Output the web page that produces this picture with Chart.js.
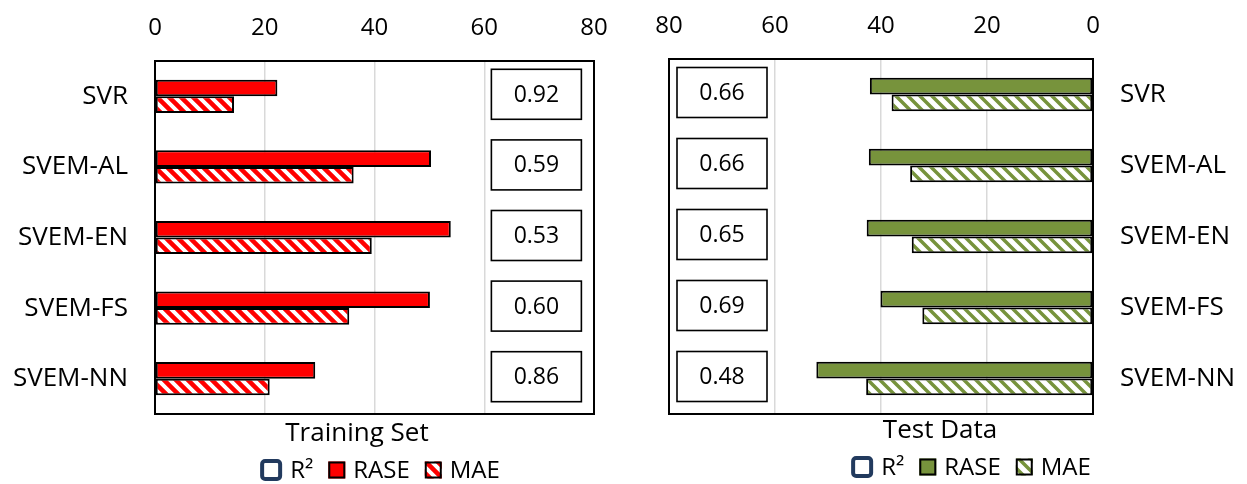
<!DOCTYPE html>
<html>
<head>
<meta charset="utf-8">
<script src="https://cdn.jsdelivr.net/npm/chart.js@4.4.1/dist/chart.umd.min.js"></script>
<style>
  html, body { margin: 0; padding: 0; background: #fff; }
  #wrap { position: relative; width: 1247px; height: 484px; overflow: hidden; background: #fff; }
  canvas { position: absolute; top: 0; }
  #train { left: 0; }
  #test { left: 620px; }
</style>
</head>
<body>
<div id="wrap">
  <canvas id="train" width="620" height="484"></canvas>
  <canvas id="test" width="627" height="484"></canvas>
</div>
<script>
// Model names (rows, top to bottom)
const models = ['SVR', 'SVEM-AL', 'SVEM-EN', 'SVEM-FS', 'SVEM-NN'];
// Error axis tick values
const errorTicks = [0, 20, 40, 60, 80];

// Training set
const trainRASE = [22.3, 50.3, 53.9, 50.1, 29.2];
const trainMAE  = [14.4, 36.2, 39.5, 35.4, 20.9];
const trainR2   = [0.92, 0.59, 0.53, 0.60, 0.86];

// Test data
const testRASE = [42.1, 42.3, 42.7, 40.1, 52.2];
const testMAE  = [38.0, 34.5, 34.2, 32.2, 42.8];
const testR2   = [0.66, 0.66, 0.65, 0.69, 0.48];

const FONT = 'Open Sans';
const R2_STROKE = '#223A5E';

// Diagonal "\" stripe fill for the MAE bars
function hatch(color, width) {
  const s = 12;
  const c = document.createElement('canvas');
  c.width = s; c.height = s;
  const g = c.getContext('2d');
  g.fillStyle = '#fff';
  g.fillRect(0, 0, s, s);
  g.strokeStyle = color;
  g.lineWidth = width;
  g.beginPath();
  for (const o of [-s, 0, s]) {
    g.moveTo(o - 3, -3);
    g.lineTo(o + s + 3, s + 3);
  }
  g.stroke();
  return g.createPattern(c, 'repeat');
}

// Black frame around the plot area
const frame = {
  id: 'frame',
  afterDatasetsDraw(chart) {
    const a = chart.chartArea, ctx = chart.ctx;
    ctx.save();
    ctx.strokeStyle = '#000';
    ctx.lineWidth = 2;
    ctx.strokeRect(a.left, a.top, a.right - a.left, a.bottom - a.top);
    ctx.restore();
  }
};

// Boxed R² values, one per row, placed with the chart's own scales
const r2boxes = {
  id: 'r2boxes',
  afterDatasetsDraw(chart, args, opts) {
    const ctx = chart.ctx;
    const cx = chart.scales.x.getPixelForValue(opts.at);
    ctx.save();
    ctx.font = '23px "' + FONT + '"';
    ctx.textAlign = 'center';
    ctx.textBaseline = 'middle';
    opts.values.forEach((v, i) => {
      const cy = chart.scales.y.getPixelForValue(i) - 2;
      const w = 90, h = 50;
      ctx.fillStyle = '#fff';
      ctx.fillRect(cx - w / 2, cy - h / 2, w, h);
      ctx.strokeStyle = '#000';
      ctx.lineWidth = 1.6;
      ctx.strokeRect(cx - w / 2, cy - h / 2, w, h);
      ctx.fillStyle = '#000';
      ctx.fillText(v.toFixed(2), cx, cy + 1);
    });
    ctx.restore();
  }
};

// Set name under the plot and the series key below it
const captions = {
  id: 'captions',
  afterDraw(chart, args, opts) {
    const ctx = chart.ctx;
    ctx.save();
    ctx.fillStyle = '#000';
    ctx.textBaseline = 'alphabetic';
    ctx.font = '26px "' + FONT + '"';
    ctx.textAlign = 'center';
    ctx.fillText(opts.title, opts.titleX, opts.titleY);

    ctx.font = '24px "' + FONT + '"';
    ctx.textAlign = 'left';
    const gap = 8, itemGap = 15;
    const entries = [{ label: 'R²', outline: true }].concat(
      chart.data.datasets.map(d => ({ label: d.label, fill: d.backgroundColor }))
    );
    const items = entries.map(e => ({ e, sw: e.outline ? 22 : 17, tw: ctx.measureText(e.label).width }));
    const total = items.reduce((s, it) => s + it.sw + gap + it.tw, 0) + itemGap * (items.length - 1);
    let x = opts.legendX - total / 2;
    const base = opts.legendY;
    const mid = base - 8;
    items.forEach(it => {
      const e = it.e, s = it.sw;
      if (e.outline) {
        const lw = 4;
        ctx.beginPath();
        ctx.roundRect(x + lw / 2, mid - s / 2 + lw / 2, s - lw, s - lw, 3);
        ctx.fillStyle = '#fff';
        ctx.fill();
        ctx.strokeStyle = R2_STROKE;
        ctx.lineWidth = lw;
        ctx.stroke();
      } else {
        ctx.fillStyle = e.fill;
        ctx.fillRect(x, mid - s / 2, s, s);
        ctx.strokeStyle = '#000';
        ctx.lineWidth = 2;
        ctx.strokeRect(x + 1, mid - s / 2 + 1, s - 2, s - 2);
      }
      x += s + gap;
      ctx.fillStyle = '#000';
      ctx.fillText(e.label, x, base);
      x += it.tw + itemGap;
    });
    ctx.restore();
  }
};

function makeChart(id, cfg) {
  return new Chart(document.getElementById(id), {
    type: 'bar',
    data: {
      labels: models,
      datasets: [
        {
          label: 'RASE', data: cfg.rase,
          backgroundColor: cfg.color, borderColor: '#000', borderWidth: 2, borderSkipped: false,
          categoryPercentage: 0.47, barPercentage: 1
        },
        {
          label: 'MAE', data: cfg.mae,
          backgroundColor: hatch(cfg.color, cfg.hatchWidth), borderColor: '#000', borderWidth: 2, borderSkipped: false,
          categoryPercentage: 0.47, barPercentage: 1
        }
      ]
    },
    options: {
      indexAxis: 'y',
      responsive: false,
      animation: false,
      events: [],
      layout: { padding: cfg.padding },
      scales: {
        x: {
          type: 'linear', position: 'top', min: 0, max: 80, reverse: cfg.reverse,
          afterBuildTicks: s => { s.ticks = errorTicks.map(v => ({ value: v })); },
          afterFit: s => { s.height = cfg.top; s.paddingLeft = 0; s.paddingRight = 0; },
          grid: { color: '#D9D9D9', lineWidth: 1.5, drawTicks: false },
          border: { display: false },
          ticks: { font: { family: FONT, size: 24 }, color: '#000', padding: cfg.tickPad, maxRotation: 0, autoSkip: false }
        },
        y: {
          type: 'category', position: cfg.yPos, offset: true,
          afterFit: s => { s.width = cfg.yWidth; s.paddingTop = 0; s.paddingBottom = 0; },
          grid: { display: false, drawTicks: false },
          border: { display: false },
          ticks: { font: { family: FONT, size: 26 }, color: '#000', padding: 27 }
        }
      },
      plugins: {
        legend: { display: false },
        tooltip: { enabled: false },
        r2boxes: { values: cfg.r2, at: cfg.r2At },
        captions: cfg.captions
      }
    },
    plugins: [frame, r2boxes, captions]
  });
}

makeChart('train', {
  rase: trainRASE, mae: trainMAE, r2: trainR2,
  color: '#FF0000', hatchWidth: 4.5,
  reverse: false, yPos: 'left', yWidth: 155, top: 61, tickPad: 18,
  padding: { left: 0, right: 26, top: 0, bottom: 70 },
  r2At: 69.5,
  captions: { title: 'Training Set', titleX: 357, titleY: 441, legendX: 380, legendY: 478 }
});

makeChart('test', {
  rase: testRASE, mae: testMAE, r2: testR2,
  color: '#77933C', hatchWidth: 3.5,
  reverse: true, yPos: 'right', yWidth: 154, top: 59, tickPad: 18,
  padding: { left: 49, right: 0, top: 0, bottom: 70 },
  r2At: 70,
  captions: { title: 'Test Data', titleX: 320, titleY: 438, legendX: 351, legendY: 475 }
});
</script>
</body>
</html>
